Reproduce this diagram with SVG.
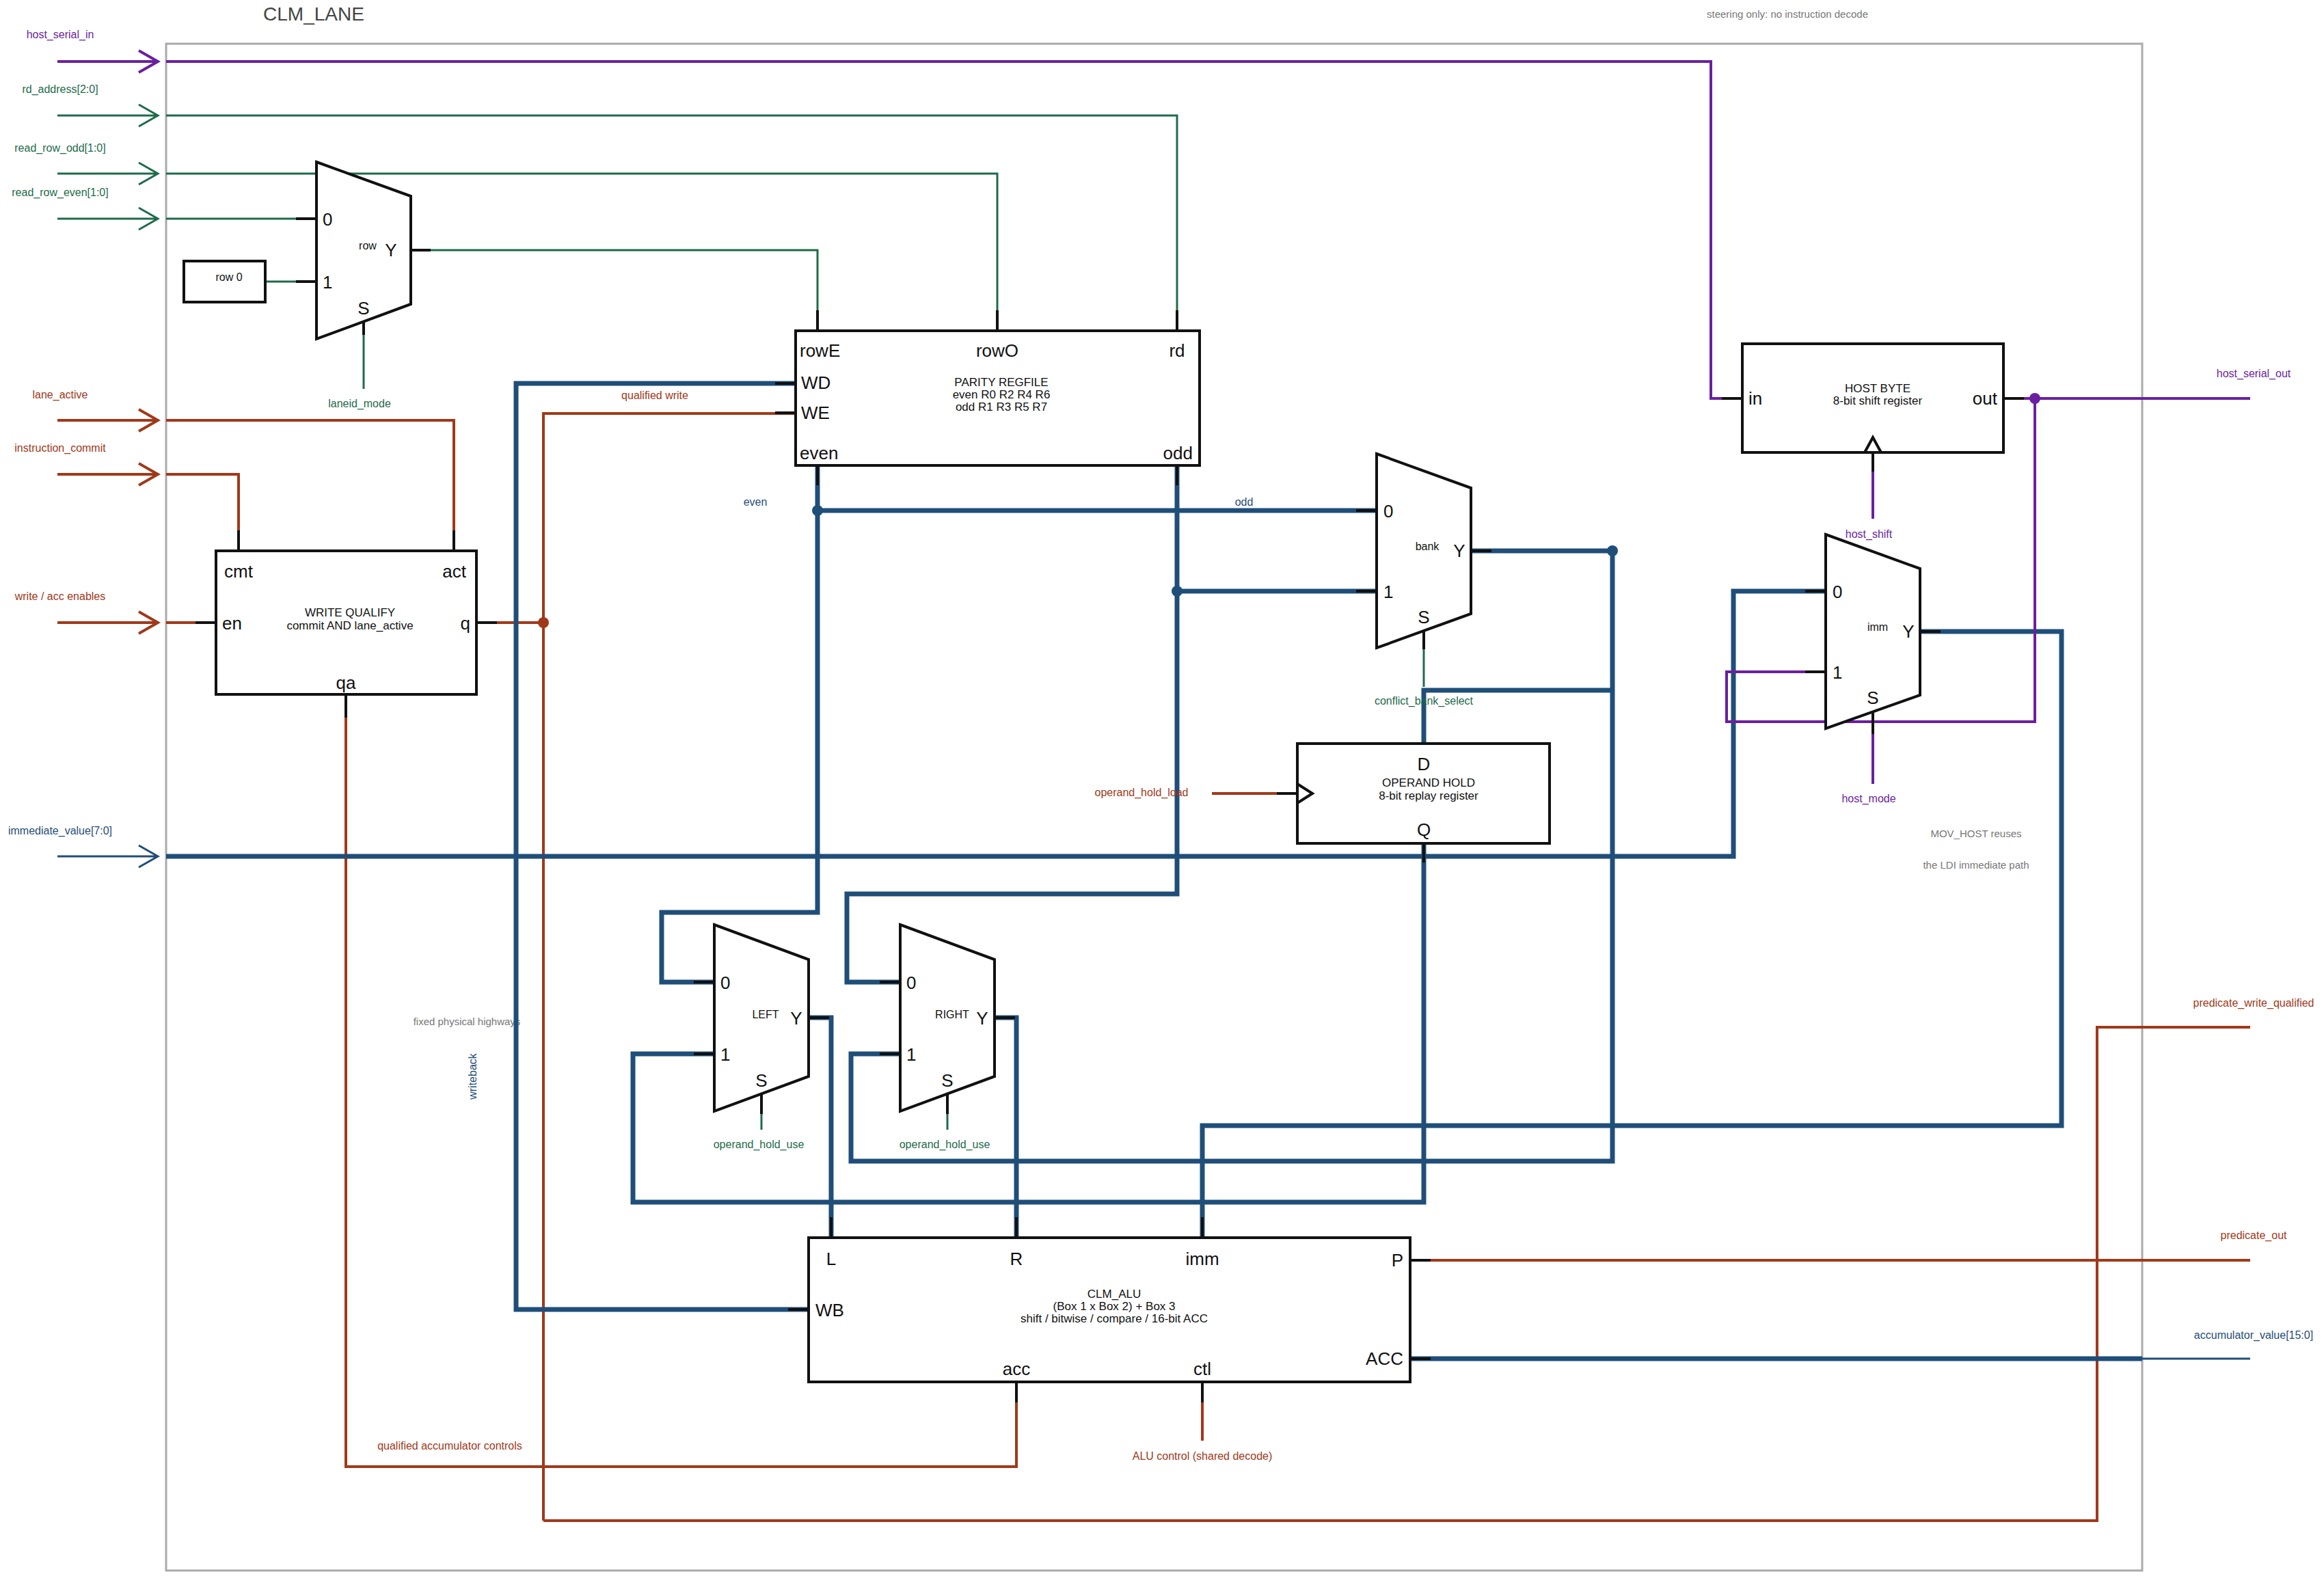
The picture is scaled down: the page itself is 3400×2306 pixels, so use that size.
<svg xmlns="http://www.w3.org/2000/svg" width="3400" height="2306" viewBox="0 0 3400 2306">
<style>
text{font-family:"Liberation Sans","DejaVu Sans",sans-serif}
.box{fill:#fff;stroke:#111;stroke-width:4}
.stub{stroke:#111;stroke-width:4;fill:none}
.b{stroke:#1f4e79;stroke-width:7;fill:none}
.bt{stroke:#1f4e79;stroke-width:3;fill:none}
.g{stroke:#1e6b4a;stroke-width:3;fill:none}
.o{stroke:#a0391a;stroke-width:4;fill:none}
.p{stroke:#6a1fa0;stroke-width:4;fill:none}
.pin{font-size:26px;fill:#111}
.lbl{font-size:16px;fill:#111}
.t{font-size:17px;text-anchor:middle;fill:#111}
.gl{font-size:16px;fill:#1e6b4a}
.ol{font-size:16px;fill:#a0391a}
.pl{font-size:16px;fill:#6a1fa0}
.bl{font-size:16px;fill:#1f4e79}
.note{font-size:15px;fill:#777}
</style>
<rect x="243" y="64" width="2891" height="2234" fill="none" stroke="#aaa" stroke-width="3"/>
<text x="459" y="30" font-size="28" fill="#444" text-anchor="middle">CLM_LANE</text>
<text x="2615" y="26" class="note" text-anchor="middle">steering only: no instruction decode</text>
<text x="2891" y="1225" class="note" text-anchor="middle">MOV_HOST reuses</text>
<text x="2891" y="1271" class="note" text-anchor="middle">the LDI immediate path</text>
<text x="683" y="1500" class="note" text-anchor="middle">fixed physical highways</text>
<text x="0" y="0" class="bl" text-anchor="middle" transform="translate(697,1575) rotate(-90)">writeback</text>

<g id="inputs">
<path class="p" d="M84 90H231M203 74L231 90L203 106"/>
<text x="88" y="56" class="pl" text-anchor="middle">host_serial_in</text>
<path class="g" d="M84 169H231M203 153L231 169L203 185"/>
<text x="88" y="136" class="gl" text-anchor="middle">rd_address[2:0]</text>
<path class="g" d="M84 254H231M203 238L231 254L203 270"/>
<text x="88" y="222" class="gl" text-anchor="middle">read_row_odd[1:0]</text>
<path class="g" d="M84 320H231M203 304L231 320L203 336"/>
<text x="88" y="287" class="gl" text-anchor="middle">read_row_even[1:0]</text>
<path class="o" d="M84 615H231M203 599L231 615L203 631"/>
<text x="88" y="583" class="ol" text-anchor="middle">lane_active</text>
<path class="o" d="M84 694H231M203 678L231 694L203 710"/>
<text x="88" y="661" class="ol" text-anchor="middle">instruction_commit</text>
<path class="o" d="M84 911H231M203 895L231 911L203 927"/>
<text x="88" y="878" class="ol" text-anchor="middle">write / acc enables</text>
<path class="bt" d="M84 1253H231M203 1237L231 1253L203 1269"/>
<text x="88" y="1221" class="bl" text-anchor="middle">immediate_value[7:0]</text>
<text x="3297" y="552" class="pl" text-anchor="middle">host_serial_out</text>
<text x="3297" y="1473" class="ol" text-anchor="middle">predicate_write_qualified</text>
<text x="3297" y="1813" class="ol" text-anchor="middle">predicate_out</text>
<text x="3297" y="1959" class="bl" text-anchor="middle">accumulator_value[15:0]</text>
</g>

<g id="connectors">
<path class="p" d="M243 90H2503V583H2549"/>
<path class="g" d="M243 169H1722V484"/>
<path class="g" d="M243 254H1459V484"/>
<path class="g" d="M243 320H463"/>
<path class="g" d="M388 412H463"/>
<path class="g" d="M601 366H1196V484"/>
<path class="g" d="M532 470V569"/>
<text x="526" y="596" class="gl" text-anchor="middle">laneid_mode</text>
<path class="o" d="M243 615H664V806"/>
<path class="o" d="M243 694H349V806"/>
<path class="o" d="M243 911H316"/>
<path class="o" d="M697 911H795M795 2225V605H1164"/>
<text x="958" y="584" class="ol" text-anchor="middle">qualified write</text>
<path class="o" d="M795 2225H3068V1503H3292"/>
<path class="o" d="M506 1016V2146H1487V2022"/>
<text x="658" y="2121" class="ol" text-anchor="middle">qualified accumulator controls</text>
<path class="o" d="M1759 2022V2108"/>
<text x="1759" y="2136" class="ol" text-anchor="middle">ALU control (shared decode)</text>
<path class="o" d="M2063 1844H3292"/>
<path class="b" d="M1164 561H755V1916H1183"/>
<path class="b" d="M1196 681V1335H968V1437H1045"/>
<path class="b" d="M1196 747H2014"/>
<text x="1105" y="740" class="bl" text-anchor="middle">even</text>
<text x="1820" y="740" class="bl" text-anchor="middle">odd</text>
<path class="b" d="M1722 681V1308H1239V1437H1317"/>
<path class="b" d="M1722 865H2014"/>
<path class="b" d="M2152 806H2359V1699H1245V1542H1317"/>
<path class="b" d="M2359 1010H2083V1088"/>
<path class="g" d="M2083 925V1005"/>
<text x="2083" y="1031" class="gl" text-anchor="middle">conflict_bank_select</text>
<path class="o" d="M1773 1161H1898"/>
<text x="1670" y="1165" class="ol" text-anchor="middle">operand_hold_load</text>
<path class="b" d="M2083 1234V1759H926V1542H1045"/>
<path class="b" d="M243 1253H2536V865H2671"/>
<path class="b" d="M2809 924H3016V1647H1759V1811"/>
<path class="b" d="M1183 1489H1216V1811"/>
<path class="b" d="M1455 1489H1487V1811"/>
<path class="g" d="M1114 1600V1653"/>
<path class="g" d="M1386 1600V1653"/>
<text x="1110" y="1680" class="gl" text-anchor="middle">operand_hold_use</text>
<text x="1382" y="1680" class="gl" text-anchor="middle">operand_hold_use</text>
<path class="b" d="M2063 1988H3134"/>
<path class="bt" d="M3134 1988H3292"/>
<path class="p" d="M2931 583H3292"/>
<path class="p" d="M2977 583V1056H2526V983H2671"/>
<path class="p" d="M2740 662V759"/>
<text x="2734" y="787" class="pl" text-anchor="middle">host_shift</text>
<path class="p" d="M2740 1040V1147"/>
<text x="2734" y="1174" class="pl" text-anchor="middle">host_mode</text>
<circle cx="1196" cy="747" r="8" fill="#1f4e79"/>
<circle cx="1722" cy="865" r="8" fill="#1f4e79"/>
<circle cx="2359" cy="806" r="8" fill="#1f4e79"/>
<circle cx="795" cy="911" r="8" fill="#a0391a"/>
<circle cx="2977" cy="583" r="8" fill="#6a1fa0"/>
</g>

<g id="row_mux">
<path class="box" d="M463 237L601 287V445L463 496Z"/>
<path class="stub" d="M433 320H463M433 412H463M601 366H630M532 470V490"/>
<text x="472" y="330" class="pin">0</text><text x="472" y="422" class="pin">1</text>
<text x="572" y="375" class="pin" text-anchor="middle">Y</text><text x="532" y="460" class="pin" text-anchor="middle">S</text>
<text x="538" y="365" class="lbl" text-anchor="middle">row</text>
</g>
<g id="row0"><rect class="box" x="269" y="382" width="119" height="60"/><text x="335" y="411" class="lbl" text-anchor="middle">row 0</text></g>

<g id="regfile">
<rect class="box" x="1164" y="484" width="591" height="197"/>
<path class="stub" d="M1196 454V484M1459 454V484M1722 454V484M1134 561H1164M1134 604H1164M1196 681V710M1722 681V710"/>
<text x="1170" y="522" class="pin">rowE</text><text x="1459" y="522" class="pin" text-anchor="middle">rowO</text><text x="1722" y="522" class="pin" text-anchor="middle">rd</text>
<text x="1172" y="569" class="pin">WD</text><text x="1172" y="613" class="pin">WE</text>
<text x="1170" y="672" class="pin">even</text><text x="1745" y="672" class="pin" text-anchor="end">odd</text>
<text x="1465" y="565" class="t">PARITY REGFILE</text>
<text x="1465" y="583" class="t">even R0 R2 R4 R6</text>
<text x="1465" y="601" class="t">odd R1 R3 R5 R7</text>
</g>

<g id="write_qualify">
<rect class="box" x="316" y="806" width="381" height="210"/>
<path class="stub" d="M349 776V806M664 776V806M286 911H316M697 911H727M506 1016V1050"/>
<text x="328" y="845" class="pin">cmt</text><text x="682" y="845" class="pin" text-anchor="end">act</text>
<text x="325" y="921" class="pin">en</text><text x="688" y="921" class="pin" text-anchor="end">q</text>
<text x="506" y="1008" class="pin" text-anchor="middle">qa</text>
<text x="512" y="902" class="t">WRITE QUALIFY</text>
<text x="512" y="921" class="t">commit AND lane_active</text>
</g>

<g id="bank_mux">
<path class="box" d="M2014 664L2152 714V898L2014 948Z"/>
<path class="stub" d="M1984 747H2014M1984 865H2014M2152 806H2182M2083 922V950"/>
<text x="2024" y="757" class="pin">0</text><text x="2024" y="875" class="pin">1</text>
<text x="2135" y="815" class="pin" text-anchor="middle">Y</text><text x="2083" y="912" class="pin" text-anchor="middle">S</text>
<text x="2088" y="805" class="lbl" text-anchor="middle">bank</text>
</g>

<g id="operand_hold">
<rect class="box" x="1898" y="1088" width="369" height="146"/>
<path class="stub" d="M1868 1161H1898M1898 1147L1920 1161L1898 1175M2083 1234V1262"/>
<text x="2083" y="1127" class="pin" text-anchor="middle">D</text>
<text x="2083" y="1223" class="pin" text-anchor="middle">Q</text>
<text x="2090" y="1151" class="t">OPERAND HOLD</text>
<text x="2090" y="1170" class="t">8-bit replay register</text>
</g>

<g id="host_byte">
<rect class="box" x="2549" y="503" width="382" height="159"/>
<path class="stub" d="M2519 583H2549M2931 583H2961M2728 662L2740 640L2752 662M2740 662V690"/>
<text x="2558" y="592" class="pin">in</text><text x="2922" y="592" class="pin" text-anchor="end">out</text>
<text x="2747" y="574" class="t">HOST BYTE</text>
<text x="2747" y="592" class="t">8-bit shift register</text>
</g>

<g id="imm_mux">
<path class="box" d="M2671 782L2809 832V1017L2671 1066Z"/>
<path class="stub" d="M2641 865H2671M2641 983H2671M2809 924H2839M2740 1040V1074"/>
<text x="2681" y="875" class="pin">0</text><text x="2681" y="993" class="pin">1</text>
<text x="2792" y="933" class="pin" text-anchor="middle">Y</text><text x="2740" y="1030" class="pin" text-anchor="middle">S</text>
<text x="2747" y="923" class="lbl" text-anchor="middle">imm</text>
</g>

<g id="left_mux">
<path class="box" d="M1045 1353L1183 1404V1575L1045 1626Z"/>
<path class="stub" d="M1015 1437H1045M1015 1542H1045M1183 1489H1213M1114 1600V1630"/>
<text x="1054" y="1447" class="pin">0</text><text x="1054" y="1552" class="pin">1</text>
<text x="1165" y="1499" class="pin" text-anchor="middle">Y</text><text x="1114" y="1590" class="pin" text-anchor="middle">S</text>
<text x="1120" y="1490" class="lbl" text-anchor="middle">LEFT</text>
</g>
<g id="right_mux">
<path class="box" d="M1317 1353L1455 1404V1575L1317 1626Z"/>
<path class="stub" d="M1287 1437H1317M1287 1542H1317M1455 1489H1485M1386 1600V1630"/>
<text x="1326" y="1447" class="pin">0</text><text x="1326" y="1552" class="pin">1</text>
<text x="1437" y="1499" class="pin" text-anchor="middle">Y</text><text x="1386" y="1590" class="pin" text-anchor="middle">S</text>
<text x="1393" y="1490" class="lbl" text-anchor="middle">RIGHT</text>
</g>

<g id="clm_alu">
<rect class="box" x="1183" y="1811" width="880" height="211"/>
<path class="stub" d="M1216 1781V1811M1487 1781V1811M1759 1781V1811M1153 1916H1183M2063 1844H2093M2063 1988H2093M1487 2022V2052M1759 2022V2052"/>
<text x="1216" y="1851" class="pin" text-anchor="middle">L</text><text x="1487" y="1851" class="pin" text-anchor="middle">R</text>
<text x="1759" y="1851" class="pin" text-anchor="middle">imm</text><text x="2053" y="1853" class="pin" text-anchor="end">P</text>
<text x="1193" y="1926" class="pin">WB</text><text x="2053" y="1997" class="pin" text-anchor="end">ACC</text>
<text x="1487" y="2012" class="pin" text-anchor="middle">acc</text><text x="1759" y="2012" class="pin" text-anchor="middle">ctl</text>
<text x="1630" y="1899" class="t">CLM_ALU</text>
<text x="1630" y="1917" class="t">(Box 1 x Box 2) + Box 3</text>
<text x="1630" y="1935" class="t">shift / bitwise / compare / 16-bit ACC</text>
</g>
</svg>
